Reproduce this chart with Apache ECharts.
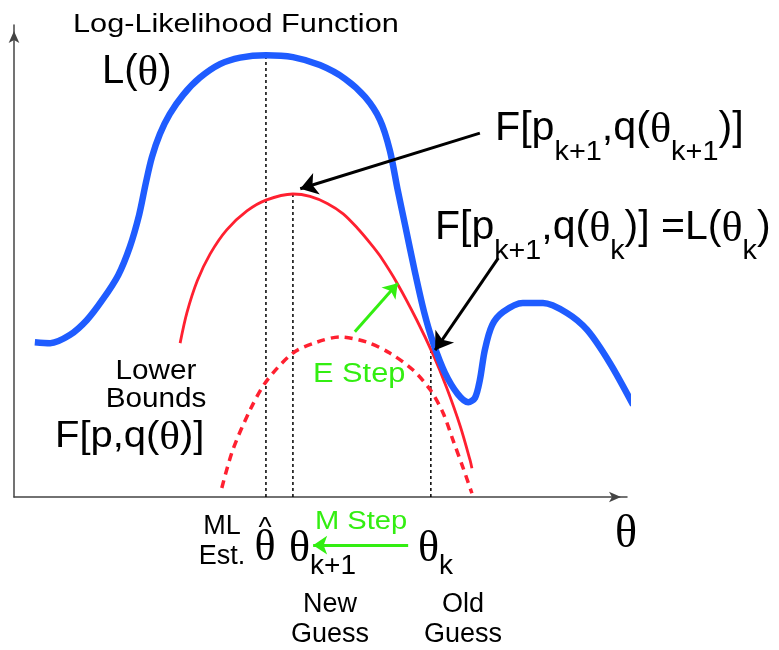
<!DOCTYPE html>
<html>
<head>
<meta charset="utf-8">
<script src="https://cdn.jsdelivr.net/npm/echarts@6/dist/echarts.min.js"></script>
<style>
  html, body { margin: 0; padding: 0; background: #fff; }
  #main { width: 779px; height: 650px; }
</style>
</head>
<body>
<div id="main"></div>
<script>
// theta on x (0..10), log-likelihood on y (0..10)
const logLik = [
  [0.34, 3.28], [0.59, 3.26], [0.91, 3.43], [1.19, 3.75], [1.45, 4.19], [1.70, 4.70],
  [1.89, 5.30], [2.04, 5.97], [2.15, 6.65], [2.25, 7.20], [2.38, 7.69], [2.54, 8.11],
  [2.76, 8.52], [3.03, 8.88], [3.36, 9.17], [3.69, 9.31], [4.11, 9.36], [4.55, 9.32],
  [4.99, 9.15], [5.40, 8.86], [5.73, 8.47], [5.97, 7.99], [6.13, 7.35], [6.26, 6.50],
  [6.38, 5.76], [6.54, 4.77], [6.69, 3.92], [6.84, 3.26], [7.03, 2.63], [7.24, 2.18],
  [7.41, 2.01], [7.52, 2.10], [7.60, 2.48], [7.68, 3.11], [7.80, 3.64], [7.98, 3.92],
  [8.30, 4.11], [8.63, 4.11], [9.02, 3.90], [9.35, 3.54], [9.72, 2.84], [10.10, 1.95]
];
const boundNew = [
  [2.71, 3.26], [2.82, 3.90], [2.99, 4.58], [3.20, 5.15], [3.47, 5.66], [3.80, 6.06],
  [4.11, 6.29], [4.55, 6.42], [4.83, 6.37], [5.11, 6.22], [5.37, 6.00], [5.60, 5.70],
  [5.81, 5.38], [5.97, 5.11], [6.25, 4.53], [6.57, 3.75], [6.84, 3.01], [7.06, 2.31],
  [7.28, 1.50], [7.44, 0.78], [7.47, 0.61]
];
const boundOld = [
  [3.39, 0.19], [3.57, 1.00], [3.85, 1.84], [4.11, 2.44], [4.55, 3.05], [4.94, 3.28],
  [5.32, 3.39], [5.76, 3.28], [6.13, 3.05], [6.51, 2.69], [6.79, 2.27], [7.00, 1.78],
  [7.16, 1.21], [7.32, 0.64], [7.47, 0.08]
];
// guesses on the theta axis and the curve heights above them
const mlEst = [4.11, 9.36];
const newGuess = [4.55, 6.42];
const oldGuess = [6.80, 3.11];
// annotation arrows [from, to]
const blackArrows = [
  [[7.60, 7.71], [4.67, 6.53]],
  [[7.90, 5.06], [6.87, 3.11]]
];
const greenArrows = [
  [[5.56, 3.50], [6.26, 4.53]],
  [[6.43, -1.02], [4.88, -1.02]]
];

const SANS = '"Liberation Sans", Arial, sans-serif';
const SERIF = '"Liberation Serif", "Times New Roman", serif';
const BLUE = '#1f5cff';
const RED = '#ff2030';
const GREEN = '#33ee11';

const chart = echarts.init(document.getElementById('main'));

function dropLine(p) {
  return {
    type: 'line', data: [[p[0], 0], [p[0], p[1]]], symbol: 'none', silent: true,
    lineStyle: { color: '#000', width: 1.5, type: [3, 3] }, z: 1
  };
}

function txt(x, y, text, size, extra) {
  return Object.assign({
    type: 'text', x: x, y: y,
    style: Object.assign({
      text: text, fontSize: size, fontFamily: SANS, fill: '#000',
      align: 'left', verticalAlign: 'middle'
    }, extra && extra.style)
  }, extra && extra.el);
}

// big labels with subscripts
const bigRich = {
  a: { fontSize: 40, fontFamily: SANS, lineHeight: 40, verticalAlign: 'top', fill: '#000' },
  t: { fontSize: 43, fontFamily: SERIF, lineHeight: 40, verticalAlign: 'top', fill: '#000' },
  s: { fontSize: 28, fontFamily: SANS, lineHeight: 28, verticalAlign: 'top', padding: [29, 0, 0, 0], fill: '#000' }
};
const thRich = {
  t: { fontSize: 44, fontFamily: SERIF, lineHeight: 44, verticalAlign: 'top', fill: '#000' },
  s: { fontSize: 28, fontFamily: SANS, lineHeight: 28, verticalAlign: 'top', padding: [25, 0, 0, 0], fill: '#000' }
};

function richTxt(x, y, text, rich, sx) {
  return {
    type: 'text', x: x, y: y, scaleX: sx || 1,
    style: { text: text, rich: rich, align: 'left', verticalAlign: 'top', fill: '#000' }
  };
}

chart.setOption({
  animation: false,
  grid: { left: 14, top: 25, right: 152, bottom: 153, containLabel: false, outerBoundsMode: 'none' },
  xAxis: {
    type: 'value', min: 0, max: 10,
    axisLine: { lineStyle: { color: '#444', width: 1.5 }, symbol: ['none', 'arrow'], symbolSize: [8, 12], symbolOffset: [0, -6] },
    axisTick: { show: false }, axisLabel: { show: false }, splitLine: { show: false }
  },
  yAxis: {
    type: 'value', min: 0, max: 10,
    axisLine: { show: true, lineStyle: { color: '#444', width: 1.5 }, symbol: ['none', 'arrow'], symbolSize: [8, 12], symbolOffset: [0, -6] },
    axisTick: { show: false }, axisLabel: { show: false }, splitLine: { show: false }
  },
  series: [
    dropLine(mlEst), dropLine(newGuess), dropLine(oldGuess),
    {
      type: 'line', data: boundOld, smooth: 0.3, symbol: 'none', clip: false, z: 2,
      lineStyle: { color: RED, width: 3.5, type: [8, 6] }
    },
    {
      type: 'line', data: boundNew, smooth: 0.3, symbol: 'none', clip: false, z: 3,
      lineStyle: { color: RED, width: 2.8 }
    },
    {
      type: 'line', data: logLik, smooth: 0.3, symbol: 'none', clip: false, z: 4,
      lineStyle: { color: BLUE, width: 6.5, cap: 'butt', join: 'round' }
    },
    {
      type: 'lines', coordinateSystem: 'cartesian2d', clip: false, z: 5,
      symbol: ['none', 'arrow'], symbolSize: 17,
      lineStyle: { color: '#000', width: 3, opacity: 1, curveness: 0 },
      data: blackArrows.map(function (a) { return { coords: a }; })
    },
    {
      type: 'lines', coordinateSystem: 'cartesian2d', clip: false, z: 5,
      symbol: ['none', 'arrow'], symbolSize: 14,
      lineStyle: { color: GREEN, width: 3, opacity: 1, curveness: 0 },
      data: greenArrows.map(function (a) { return { coords: a }; })
    }
  ],
  graphic: [
    txt(73, 25, 'Log-Likelihood Function', 26, { el: { scaleX: 1.18 } }),
    richTxt(102, 52, '{a|L(}{t|θ}{a|)}', bigRich),
    richTxt(495, 109, '{a|F[p}{s|k+1}{a|,q(}{t|θ}{s|k+1}{a|)]}', bigRich, 1.03),
    richTxt(435, 208, '{a|F[p}{s|k+1}{a|,q(}{t|θ}{s|k}{a|)] =L(}{t|θ}{s|k}{a|)}', bigRich, 1.025),
    txt(156, 372, 'Lower', 27, { style: { align: 'center' }, el: { scaleX: 1.1 } }),
    txt(156, 400, 'Bounds', 27, { style: { align: 'center' }, el: { scaleX: 1.1 } }),
    richTxt(55, 418, '{a|F[p,q(}{t|θ}{a|)]}', {
      a: { fontSize: 37, fontFamily: SANS, lineHeight: 38, verticalAlign: 'top', fill: '#000' },
      t: { fontSize: 40, fontFamily: SERIF, lineHeight: 38, verticalAlign: 'top', fill: '#000' }
    }, 1.08),
    txt(313, 375, 'E Step', 27, { style: { fill: GREEN }, el: { scaleX: 1.14 } }),
    txt(315, 522, 'M Step', 26, { style: { fill: GREEN }, el: { scaleX: 1.12 } }),
    txt(222, 527, 'ML', 27, { style: { align: 'center' } }),
    txt(222, 557, 'Est.', 27, { style: { align: 'center' } }),
    txt(265, 528, '^', 28, { style: { align: 'center' } }),
    txt(265, 548, 'θ', 44, { style: { align: 'center', fontFamily: SERIF } }),
    richTxt(289, 527, '{t|θ}{s|k+1}', thRich),
    richTxt(418, 527, '{t|θ}{s|k}', thRich),
    txt(330, 605, 'New', 27, { style: { align: 'center' } }),
    txt(330, 635, 'Guess', 27, { style: { align: 'center' } }),
    txt(463, 605, 'Old', 27, { style: { align: 'center' } }),
    txt(463, 635, 'Guess', 27, { style: { align: 'center' } }),
    txt(626, 535, 'θ', 46, { style: { align: 'center', fontFamily: SERIF } })
  ]
});
</script>
</body>
</html>
